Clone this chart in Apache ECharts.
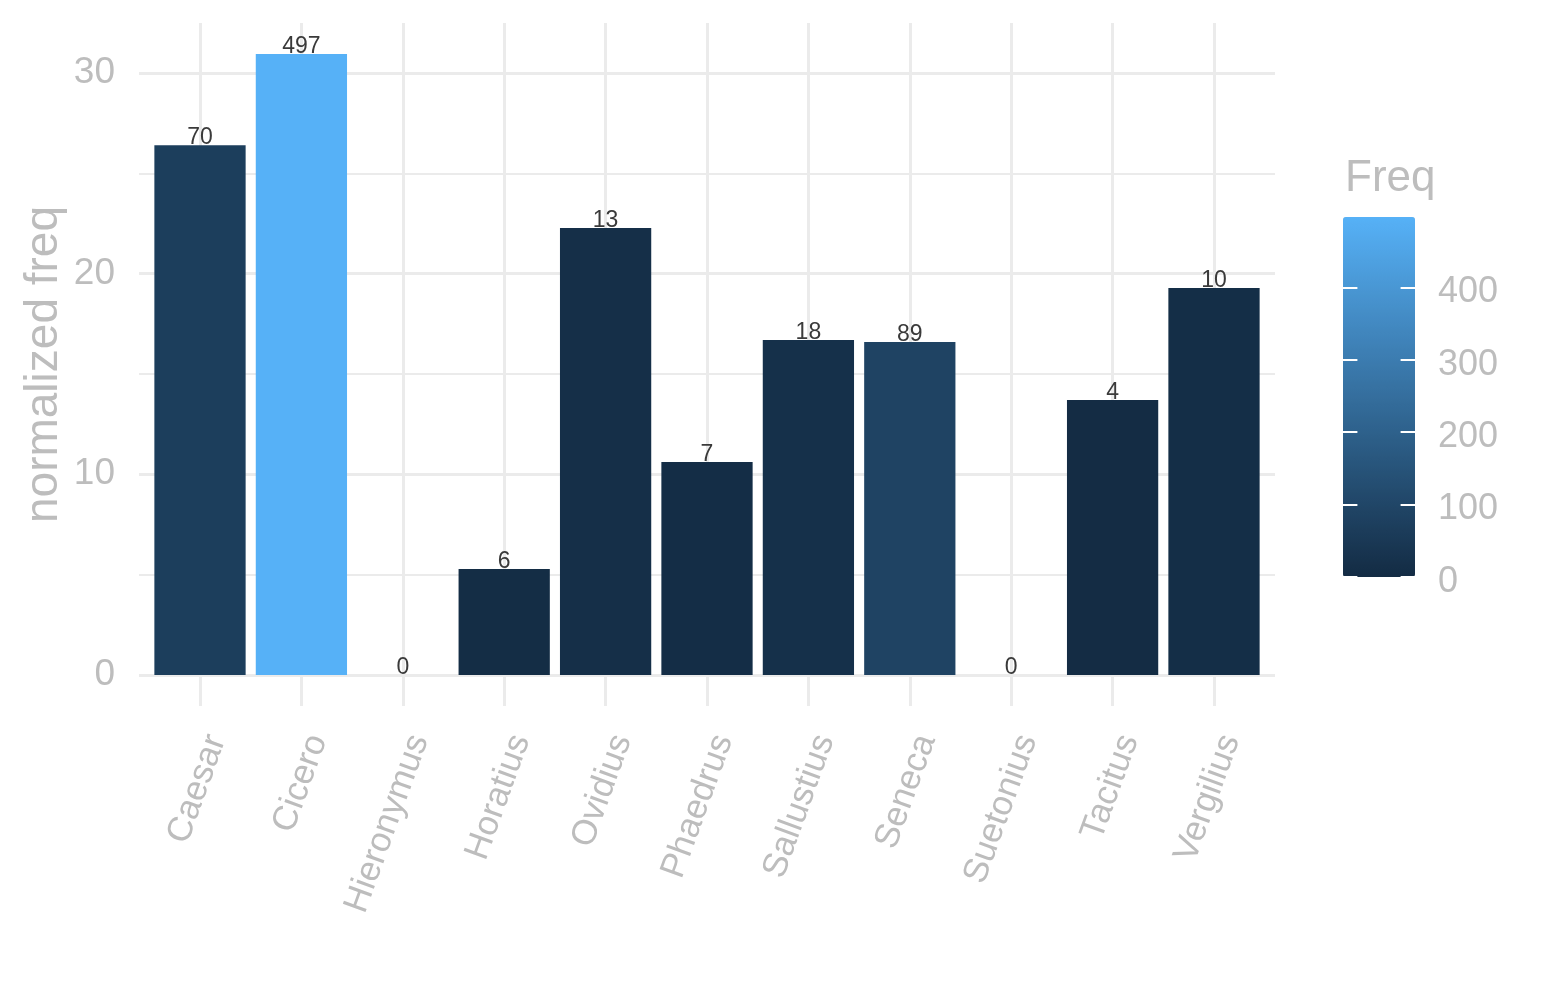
<!DOCTYPE html>
<html>
<head>
<meta charset="utf-8">
<script src="https://cdn.jsdelivr.net/npm/echarts@6/dist/echarts.min.js"></script>
<style>
html,body{margin:0;padding:0;background:#fff;}
#chart{width:1545px;height:1000px;}
</style>
</head>
<body>
<div id="chart"></div>
<script>
const categories = ['Caesar','Cicero','Hieronymus','Horatius','Ovidius','Phaedrus','Sallustius','Seneca','Suetonius','Tacitus','Vergilius'];
const normFreq = [26.4, 30.94, 0, 5.28, 22.27, 10.61, 16.69, 16.59, 0, 13.70, 19.28];
const freq = [70, 497, 0, 6, 13, 7, 18, 89, 0, 4, 10];
const yMajorTicks = [0, 10, 20, 30];
const yMinorTicks = [5, 15, 25];
const legendTicks = [0, 100, 200, 300, 400];

const GRID = '#ebebeb';
const TXT = '#bdbdbd';
const FONT = 'Liberation Sans, Arial, sans-serif';

const yMax = Math.max(...normFreq);
const yLo = -0.05 * yMax;
const yHi = yMax * 1.05;
const fMax = Math.max(...freq);

const chart = echarts.init(document.getElementById('chart'), null, {renderer: 'canvas'});

const barData = categories.map((c, i) => [i, normFreq[i], freq[i]]);

const hLines = [];
yMajorTicks.forEach(v => hLines.push({
  yAxis: v,
  lineStyle: {width: 3, color: GRID, type: 'solid'},
  label: {show: true, position: 'start', formatter: String(v), distance: 24,
          fontSize: 37, color: TXT, fontFamily: FONT}
}));
yMinorTicks.forEach(v => hLines.push({
  yAxis: v,
  lineStyle: {width: 2, color: GRID, type: 'solid'},
  label: {show: false}
}));

const vLines = categories.map(c => ({
  xAxis: c,
  lineStyle: {width: 3, color: GRID, type: 'solid'},
  label: {show: false}
}));

// white tick marks on both edges of the colour bar
const legendTickLines = [];
legendTicks.forEach(v => {
  legendTickLines.push([{coord: [0, v]}, {coord: [0.2, v]}]);
  legendTickLines.push([{coord: [0.8, v]}, {coord: [1, v]}]);
});

const option = {
  animation: false,
  textStyle: {fontFamily: FONT},
  title: {
    text: 'Freq', left: 1345, top: 157, padding: 0,
    textStyle: {fontSize: 44, color: TXT, fontWeight: 'normal', fontFamily: FONT}
  },
  grid: [
    {left: 149.3, top: 23, width: 1115.4, height: 683, containLabel: false},
    {left: 139, top: 23, width: 1136, height: 683, containLabel: false},
    {left: 1343, top: 217, width: 72, height: 360, containLabel: false}
  ],
  xAxis: [
    {
      type: 'category', gridIndex: 0, data: categories, boundaryGap: true,
      axisLine: {show: false}, axisTick: {show: false}, splitLine: {show: false},
      axisLabel: {interval: 0, rotate: 70, margin: 24, fontSize: 35, color: TXT, fontFamily: FONT,
                  verticalAlign: 'top'}
    },
    {type: 'value', gridIndex: 1, min: 0, max: 1, show: false},
    {type: 'value', gridIndex: 2, min: 0, max: 1, show: false}
  ],
  yAxis: [
    {
      type: 'value', gridIndex: 0, min: yLo, max: yHi, show: false
    },
    {
      type: 'value', gridIndex: 1, min: yLo, max: yHi,
      axisLine: {show: false}, axisTick: {show: false}, axisLabel: {show: false}, splitLine: {show: false},
      name: 'normalized freq', nameLocation: 'middle', nameGap: 72,
      nameTextStyle: {fontSize: 46, color: TXT, fontFamily: FONT}
    },
    {
      type: 'value', gridIndex: 2, min: 0, max: fMax, interval: 100, position: 'right', z: 10,
      axisLine: {show: false, onZero: false},
      axisTick: {show: false},
      axisLabel: {show: true, margin: 23, color: TXT, fontFamily: FONT, showMaxLabel: false,
                  formatter: '{a|{value}}',
                  rich: {a: {fontSize: 36, color: TXT, fontFamily: FONT, padding: [10, 0, 0, 0]}}},
      splitLine: {show: false}
    }
  ],
  visualMap: {
    type: 'continuous', min: 0, max: fMax, dimension: 2, seriesIndex: 3,
    inRange: {color: ['#132B43', '#56B1F7']},
    left: 1343, top: 217, itemWidth: 72, itemHeight: 360,
    calculable: false, padding: 0, orient: 'vertical', hoverLink: false,
    text: null, showLabel: false, z: 4
  },
  series: [
    {
      type: 'line', xAxisIndex: 0, yAxisIndex: 0, data: [], z: 1, silent: true,
      markLine: {silent: true, z: 1, symbol: ['none', 'none'], animation: false, data: vLines}
    },
    {
      type: 'line', xAxisIndex: 1, yAxisIndex: 1, data: [], z: 1, silent: true,
      markLine: {silent: true, z: 1, symbol: ['none', 'none'], animation: false, data: hLines}
    },
    {
      type: 'line', xAxisIndex: 2, yAxisIndex: 2, data: [], z: 10, silent: true,
      markLine: {silent: true, z: 10, symbol: ['none', 'none'], animation: false,
                 lineStyle: {color: '#ffffff', width: 2, type: 'solid'}, label: {show: false},
                 data: legendTickLines}
    },
    {
      type: 'bar', xAxisIndex: 0, yAxisIndex: 0, z: 3,
      data: barData, encode: {x: 0, y: 1},
      barCategoryGap: '10%',
      label: {
        show: true, position: 'top', distance: -4,
        formatter: p => String(p.value[2]),
        fontSize: 23, color: '#3a3a3a', fontFamily: FONT
      }
    }
  ]
};

chart.setOption(option);
</script>
</body>
</html>
